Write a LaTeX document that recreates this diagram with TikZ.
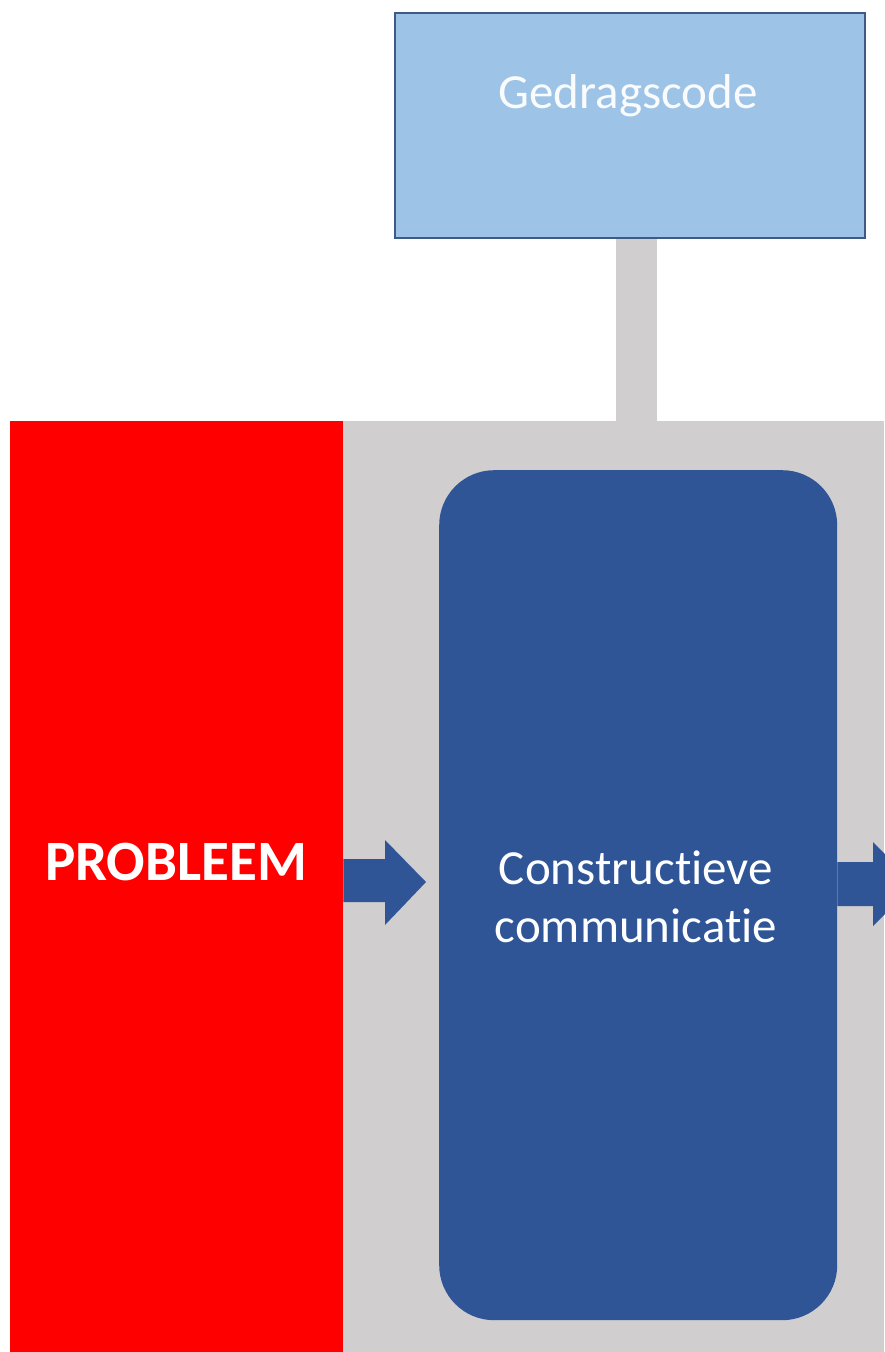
\documentclass[tikz,border=0pt]{standalone}
\usepackage{fontspec}
\setmainfont{Carlito}[Ligatures={NoCommon}]
\definecolor{lightbox}{HTML}{9DC3E6}
\definecolor{lightborder}{HTML}{3F5B85}
\definecolor{bandgray}{HTML}{D0CECE}
\definecolor{probred}{HTML}{FF0000}
\definecolor{darkblue}{HTML}{2F5597}
\tikzset{
  px/.style={x=1pt,y=-1pt},
  boxtext/.style={text=white,align=center},
  arrowfill/.style={fill=darkblue,draw=none},
}
\begin{document}
\begin{tikzpicture}[px]
\useasboundingbox (0,0) rectangle (884,1352);
\fill[white] (0,0) rectangle (884,1352);
% gray band
\fill[bandgray] (342,421) rectangle (884,1352);
% connector stem
\node[fill=bandgray,minimum width=41pt,minimum height=185pt,inner sep=0pt,anchor=north] (stem) at (636,237) {};
% top box
\node[fill=lightbox,draw=lightborder,line width=2pt,minimum width=470pt,minimum height=225pt,inner sep=0pt,anchor=north west] (code) at (394,12) {};
\node[boxtext,text=white!94!lightbox,font=\fontsize{49}{58}\selectfont] (codetext) at (628,96) {Gedragscode};
% red problem bar
\node[fill=probred,minimum width=333pt,minimum height=931pt,inner sep=0pt,anchor=north west] (prob) at (10,421) {};
\node[boxtext,font=\fontsize{57}{60}\selectfont\bfseries] (probtext) at (176,862) {PROBLEEM};
% blue rounded box
\node[fill=darkblue,rounded corners=55pt,minimum width=398pt,minimum height=850pt,inner sep=0pt,anchor=north west] (comm) at (439,470) {};
\node[boxtext,font=\fontsize{49}{58}\selectfont] (commtext) at (636,897) {Constructieve\\communicatie};
% arrow problem -> communicatie
\coordinate (tipL) at ([xshift=-13pt]comm.west |- 0,882);
\fill[arrowfill] (prob.east |- 0,859) -- (385,859) -- (385,840) -- (tipL) -- (385,925) -- (385,902) -- (prob.east |- 0,902) -- cycle;
% arrow communicatie -> right (cut off)
\fill[arrowfill] (comm.east |- 0,862) -- (873,862) -- (873,842) -- (915,884) -- (873,926) -- (873,906) -- (comm.east |- 0,906) -- cycle;
\end{tikzpicture}
\end{document}
